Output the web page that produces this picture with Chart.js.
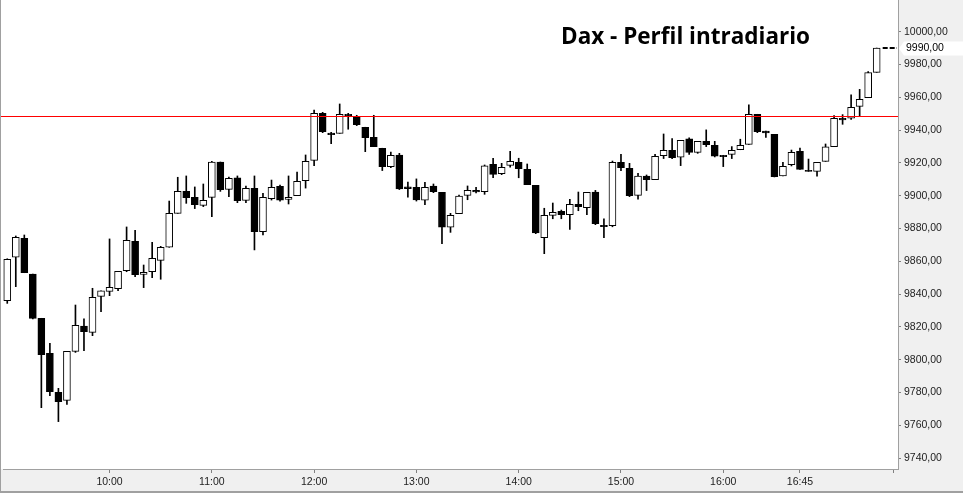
<!DOCTYPE html>
<html>
<head>
<meta charset="utf-8">
<title>Dax - Perfil intradiario</title>
<script src="https://cdn.jsdelivr.net/npm/chart.js@4.4.1/dist/chart.umd.min.js"></script>
<style>
  html, body { margin: 0; padding: 0; background: #f0f0f0; }
  #wrap { position: relative; width: 963px; height: 493px; }
  #daxChart { display: block; }
  #title {
    position: absolute;
    left: 561px;
    top: 25px;
    font: bold 22.5px "Open Sans", sans-serif;
    line-height: 1;
    color: #000;
    white-space: nowrap;
  }
</style>
</head>
<body>
<div id="wrap">
  <canvas id="daxChart" width="963" height="493"></canvas>
  <div id="title">Dax - Perfil intradiario</div>
</div>
<script>
// 5 minute candles, 9:00 to 17:40 (last two slots empty)
const categories = [];
for (let i = 0; i < 105; i++) {
  const m = 9 * 60 + i * 5;
  categories.push(Math.floor(m / 60) + ":" + String(m % 60).padStart(2, "0"));
}

const xTickLabels = ["10:00", "11:00", "12:00", "13:00", "14:00", "15:00", "16:00", "16:45"];
const xEndTick = "17:40";

const opens = [
  9836.0, 9862.4, 9874.0, 9852.2, 9825.2, 9803.8, 9780.0, 9775.1, 9805.0, 9820.5,
  9816.6, 9838.6, 9841.6, 9843.3, 9854.2, 9872.1, 9852.0, 9853.6, 9860.5, 9868.5,
  9889.2, 9902.6, 9898.9, 9894.1, 9898.9, 9920.5, 9903.8, 9910.8, 9897.1, 9904.4,
  9878.0, 9898.2, 9905.7, 9897.7, 9900.0, 9909.1, 9921.5, 9950.2, 9938.2, 9938.0,
  9949.6, 9948.4, 9941.7, 9935.6, 9928.9, 9917.7, 9924.8, 9905.3, 9905.1, 9897.2,
  9905.9, 9902.0, 9880.7, 9889.0, 9900.2, 9903.2, 9902.4, 9919.1, 9913.4, 9918.5,
  9920.3, 9916.0, 9906.3, 9874.4, 9888.0, 9890.4, 9888.4, 9894.7, 9892.7, 9902.2,
  9881.9, 9881.7, 9920.3, 9916.7, 9900.2, 9912.0, 9909.8, 9924.4, 9927.6, 9923.4,
  9934.6, 9926.4, 9933.1, 9930.7, 9924.6, 9925.2, 9928.1, 9931.3, 9949.6, 9939.4,
  9937.4, 9912.0, 9918.9, 9927.0, 9915.4, 9914.8, 9920.9, 9929.9, 9947.2, 9947.2,
  9954.4, 9959.8, 9975.2
];

const highs = [
  9861.5, 9875.4, 9876.0, 9852.2, 9825.2, 9810.0, 9782.5, 9805.0, 9833.3, 9824.8,
  9843.5, 9842.0, 9873.6, 9853.8, 9880.9, 9878.8, 9857.7, 9871.5, 9869.1, 9896.7,
  9911.2, 9912.0, 9905.3, 9907.1, 9920.9, 9920.5, 9911.3, 9912.0, 9905.9, 9912.0,
  9901.4, 9909.5, 9906.5, 9912.0, 9914.4, 9924.8, 9952.2, 9950.8, 9938.6, 9955.9,
  9950.2, 9949.0, 9941.7, 9949.0, 9928.9, 9926.6, 9925.8, 9908.3, 9910.2, 9908.1,
  9907.1, 9902.0, 9889.2, 9900.4, 9905.9, 9905.1, 9918.7, 9922.8, 9919.7, 9927.0,
  9922.8, 9919.3, 9906.3, 9892.3, 9895.5, 9891.2, 9897.7, 9902.2, 9902.0, 9903.2,
  9885.8, 9921.1, 9925.2, 9919.7, 9913.6, 9912.6, 9925.2, 9937.6, 9934.8, 9933.7,
  9935.2, 9933.1, 9940.1, 9933.1, 9924.6, 9929.9, 9934.4, 9955.3, 9949.6, 9939.4,
  9937.4, 9920.3, 9927.8, 9929.0, 9922.3, 9920.3, 9931.5, 9948.8, 9949.4, 9961.4,
  9964.8, 9975.6, 9990.0
];

const lows = [
  9834.3, 9844.5, 9853.0, 9824.8, 9770.7, 9778.0, 9762.2, 9772.7, 9804.4, 9805.5,
  9814.6, 9829.2, 9839.0, 9842.0, 9853.6, 9850.6, 9843.9, 9850.0, 9849.0, 9868.5,
  9889.2, 9895.3, 9892.1, 9893.3, 9887.1, 9902.6, 9899.4, 9895.7, 9895.7, 9866.9,
  9876.0, 9897.3, 9896.7, 9894.9, 9900.0, 9904.6, 9918.3, 9938.4, 9931.7, 9938.0,
  9940.5, 9942.7, 9926.8, 9929.9, 9915.3, 9917.1, 9903.7, 9899.0, 9896.7, 9894.5,
  9901.8, 9870.7, 9877.6, 9889.0, 9897.5, 9901.6, 9900.8, 9910.9, 9912.8, 9917.3,
  9910.9, 9906.7, 9876.8, 9864.6, 9885.9, 9885.9, 9879.4, 9890.8, 9888.4, 9882.3,
  9874.4, 9881.0, 9915.3, 9899.4, 9897.8, 9903.1, 9909.8, 9922.6, 9922.6, 9918.3,
  9925.2, 9925.8, 9929.9, 9923.6, 9917.7, 9922.6, 9928.0, 9931.3, 9938.4, 9935.5,
  9911.4, 9912.0, 9918.1, 9916.0, 9914.8, 9911.8, 9920.9, 9929.9, 9943.5, 9946.5,
  9948.5, 9959.8, 9975.2
];

const closes = [
  9861.2, 9874.6, 9853.0, 9825.2, 9803.0, 9780.4, 9774.3, 9805.0, 9820.9, 9817.0,
  9838.0, 9841.9, 9844.1, 9853.8, 9872.8, 9851.8, 9853.2, 9861.8, 9868.5, 9889.2,
  9902.6, 9898.8, 9894.5, 9897.1, 9920.5, 9903.6, 9910.5, 9896.9, 9904.4, 9878.0,
  9898.9, 9905.1, 9897.3, 9898.9, 9908.7, 9920.9, 9950.2, 9939.0, 9937.2, 9949.6,
  9948.8, 9943.3, 9935.4, 9929.9, 9917.7, 9924.6, 9904.1, 9904.3, 9897.4, 9905.1,
  9902.4, 9880.7, 9888.0, 9899.8, 9903.2, 9902.2, 9918.1, 9913.0, 9917.3, 9920.9,
  9916.4, 9906.7, 9877.2, 9888.0, 9889.8, 9888.4, 9894.7, 9893.3, 9902.0, 9882.9,
  9881.1, 9920.3, 9917.1, 9900.0, 9912.0, 9909.8, 9924.0, 9927.6, 9923.2, 9933.7,
  9926.4, 9933.1, 9931.1, 9924.0, 9923.8, 9927.6, 9930.7, 9949.6, 9939.0, 9938.2,
  9911.6, 9917.9, 9926.4, 9916.0, 9914.8, 9920.3, 9929.7, 9947.2, 9946.1, 9953.9,
  9958.7, 9975.0, 9990.0
];

// price axis
const yMin = 9733.3;
const yMax = 10019.3;
const yStep = 20;

// red reference level and last price
const refLevel = 9948.4;
const lastPrice = 9990;

const axisFont = { family: "'Liberation Sans', Arial, sans-serif", size: 10.5 };

function fmt(v) {
  return v.toFixed(2).replace(".", ",");
}

const bodies = opens.map(function (o, i) {
  return [o, closes[i]];
});
const wicks = lows.map(function (l, i) {
  return [l, highs[i]];
});
const bodyColors = opens.map(function (o, i) {
  return closes[i] >= o ? "#ffffff" : "#000000";
});

// backgrounds, frame, reference line and last price marker
const decorations = {
  id: "decorations",
  beforeDraw: function (chart) {
    const ctx = chart.ctx;
    const area = chart.chartArea;
    ctx.save();
    ctx.fillStyle = "#f0f0f0";
    ctx.fillRect(0, 0, chart.width, chart.height);
    ctx.fillStyle = "#ffffff";
    ctx.fillRect(1, 0, area.right - 1, area.bottom);
    ctx.fillStyle = "#a0a0a0";
    ctx.fillRect(0, 0, 1, chart.height);
    ctx.fillRect(0, chart.height - 2, chart.width, 2);
    ctx.restore();
  },
  afterDatasetsDraw: function (chart) {
    const ctx = chart.ctx;
    const area = chart.chartArea;
    const y = chart.scales.y;
    const x = chart.scales.x;
    ctx.save();
    const ry = Math.round(y.getPixelForValue(refLevel));
    ctx.fillStyle = "#ff0000";
    ctx.fillRect(1, ry, area.right - 1, 1);

    const py = Math.round(y.getPixelForValue(lastPrice));
    ctx.strokeStyle = "#000000";
    ctx.lineWidth = 2;
    ctx.setLineDash([5, 2]);
    ctx.beginPath();
    ctx.moveTo(x.getPixelForValue(closes.length - 1) + 6, py);
    ctx.lineTo(area.right - 1, py);
    ctx.stroke();
    ctx.restore();
  },
  afterDraw: function (chart) {
    const ctx = chart.ctx;
    const area = chart.chartArea;
    const py = Math.round(chart.scales.y.getPixelForValue(lastPrice)) + 0.5;
    ctx.save();
    ctx.fillStyle = "#ffffff";
    ctx.beginPath();
    ctx.moveTo(area.right + 1, py);
    ctx.lineTo(area.right + 6, py - 7);
    ctx.lineTo(chart.width, py - 7);
    ctx.lineTo(chart.width, py + 7);
    ctx.lineTo(area.right + 6, py + 7);
    ctx.closePath();
    ctx.fill();
    ctx.fillStyle = "#000000";
    ctx.font = axisFont.size + "px " + axisFont.family;
    ctx.textBaseline = "middle";
    ctx.fillText(fmt(lastPrice), area.right + 8, py);
    ctx.restore();
  }
};

new Chart(document.getElementById("daxChart"), {
  type: "bar",
  data: {
    labels: categories,
    datasets: [
      {
        label: "Cuerpo",
        data: bodies,
        backgroundColor: bodyColors,
        borderColor: "#000000",
        borderWidth: 1,
        borderSkipped: false,
        barThickness: 7,
        grouped: false
      },
      {
        label: "Mecha",
        data: wicks,
        backgroundColor: "#000000",
        borderWidth: 0,
        barThickness: 1,
        grouped: false
      }
    ]
  },
  options: {
    responsive: false,
    animation: false,
    layout: {
      padding: { left: 3, top: 0, right: 0, bottom: 0 }
    },
    plugins: {
      legend: { display: false },
      tooltip: { enabled: false }
    },
    scales: {
      x: {
        type: "category",
        offset: true,
        grid: {
          offset: false,
          drawOnChartArea: false,
          drawTicks: true,
          tickLength: 4,
          color: "#808080"
        },
        border: { color: "#a0a0a0" },
        ticks: {
          autoSkip: false,
          maxRotation: 0,
          padding: 3,
          color: "#222222",
          font: axisFont,
          callback: function (value) {
            const label = categories[value];
            return label === xEndTick ? "" : label;
          }
        },
        afterBuildTicks: function (scale) {
          scale.ticks = scale.ticks.filter(function (t) {
            const label = categories[t.value];
            return xTickLabels.includes(label) || label === xEndTick;
          });
        },
        afterFit: function (scale) {
          scale.height = 24;
          scale.paddingLeft = 0;
          scale.paddingRight = 0;
        }
      },
      y: {
        position: "right",
        min: yMin,
        max: yMax,
        grid: {
          drawOnChartArea: false,
          drawTicks: true,
          tickLength: 3,
          color: "#808080"
        },
        border: { color: "#a0a0a0" },
        ticks: {
          stepSize: yStep,
          includeBounds: false,
          padding: 3,
          color: "#222222",
          font: axisFont,
          callback: function (value) {
            return fmt(value);
          }
        },
        afterFit: function (scale) {
          scale.width = 65;
          scale.paddingTop = 0;
          scale.paddingBottom = 0;
        }
      }
    }
  },
  plugins: [decorations]
});
</script>
</body>
</html>
